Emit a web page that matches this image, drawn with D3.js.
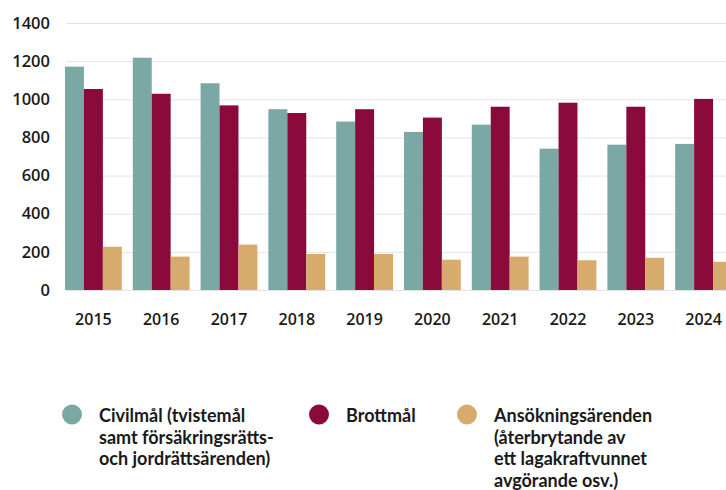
<!DOCTYPE html>
<meta charset="utf-8">
<title>mål</title>
<style>
  body { margin: 0; background: #fff; }
  svg text { font-family: "Open Sans", sans-serif; font-weight: 600; fill: #1a1a1a; }
  svg .legend text { font-family: Lato, "Open Sans", sans-serif; font-weight: 700; }
  .grid line { stroke: #e4e4e4; stroke-width: 1; }
  .grid .domain { display: none; }
</style>
<body>
<div class="chart"></div>
<script src="https://d3js.org/d3.v7.min.js"></script>
<script>

// data

var years = ["2015","2016","2017","2018","2019","2020","2021","2022","2023","2024"];
var civilmal = [1171, 1218, 1084, 948, 883, 829, 867, 741, 762, 766];
var brottmal = [1054, 1029, 968, 928, 948, 904, 961, 982, 961, 1002];
var ansokning = [227, 175, 238, 189, 189, 159, 175, 156, 169, 148];
var yTicks = [0, 200, 400, 600, 800, 1000, 1200, 1400];

var seriesNames = ["civil", "brott", "ans"];
var seriesColors = ["#7aa8a5", "#8a0a3c", "#d6ab6c"];
var legendLabels = [
  ["Civilmål (tvistemål", "samt försäkringsrätts-", "och jordrättsärenden)"],
  ["Brottmål"],
  ["Ansökningsärenden", "(återbrytande av", "ett lagakraftvunnet", "avgörande osv.)"]
];

var rows = years.map(function(y, i) {
  return {year: y, civil: civilmal[i], brott: brottmal[i], ans: ansokning[i]};
});

var W = 726, H = 490;

var svg = d3.select(".chart").append("svg")
  .attr("width", W)
  .attr("height", H);

// scales

var x0 = d3.scaleBand()
  .domain(years)
  .range([65, 732])
  .paddingInner(0.162)
  .paddingOuter(0);

var x1 = d3.scaleBand()
  .domain(seriesNames)
  .range([0, x0.bandwidth()]);

var y = d3.scaleLinear()
  .domain([0, 1400])
  .range([290, 23]);

// gridlines

svg.append("g")
  .attr("class", "grid")
  .attr("transform", "translate(66,0)")
  .call(d3.axisLeft(y).tickValues(yTicks).tickSize(-(W - 66)).tickFormat(""));

// y labels

svg.append("g")
  .selectAll("text")
  .data(yTicks)
  .enter()
  .append("text")
  .attr("x", 50)
  .attr("y", function(d) { return y(d); })
  .attr("dy", "0.35em")
  .attr("text-anchor", "end")
  .style("font-size", "16.5px")
  .text(function(d) { return d; });

// bars

var group = svg.selectAll("g.year")
  .data(rows)
  .enter()
  .append("g")
  .attr("class", "year")
  .attr("transform", function(d) { return "translate(" + x0(d.year) + ",0)"; });

group.selectAll("rect")
  .data(function(d) {
    return seriesNames.map(function(k, i) { return {key: k, value: d[k], color: seriesColors[i]}; });
  })
  .enter()
  .append("rect")
  .attr("x", function(d) { return x1(d.key); })
  .attr("y", function(d) { return y(d.value); })
  .attr("width", x1.bandwidth())
  .attr("height", function(d) { return y(0) - y(d.value); })
  .attr("fill", function(d) { return d.color; });

// x labels

svg.append("g")
  .selectAll("text")
  .data(years)
  .enter()
  .append("text")
  .attr("x", function(d) { return x0(d) + x0.bandwidth() / 2; })
  .attr("y", 319)
  .attr("dy", "0.35em")
  .attr("text-anchor", "middle")
  .style("font-size", "16px")
  .text(function(d) { return d; });

// legend

var legendX = [72, 319, 467];

var legend = svg.selectAll("g.legend")
  .data(legendLabels)
  .enter()
  .append("g")
  .attr("class", "legend")
  .attr("transform", function(d, i) { return "translate(" + legendX[i] + ",414.5)"; });

legend.append("circle")
  .attr("r", 10)
  .attr("fill", function(d, i) { return seriesColors[i]; });

legend.append("text")
  .attr("x", 27)
  .attr("y", 7.5)
  .style("font-size", "18px")
  .selectAll("tspan")
  .data(function(d) { return d; })
  .enter()
  .append("tspan")
  .attr("x", 27)
  .attr("dy", function(d, i) { return i === 0 ? 0 : 21.5; })
  .text(function(d) { return d; });

</script>
</body>
